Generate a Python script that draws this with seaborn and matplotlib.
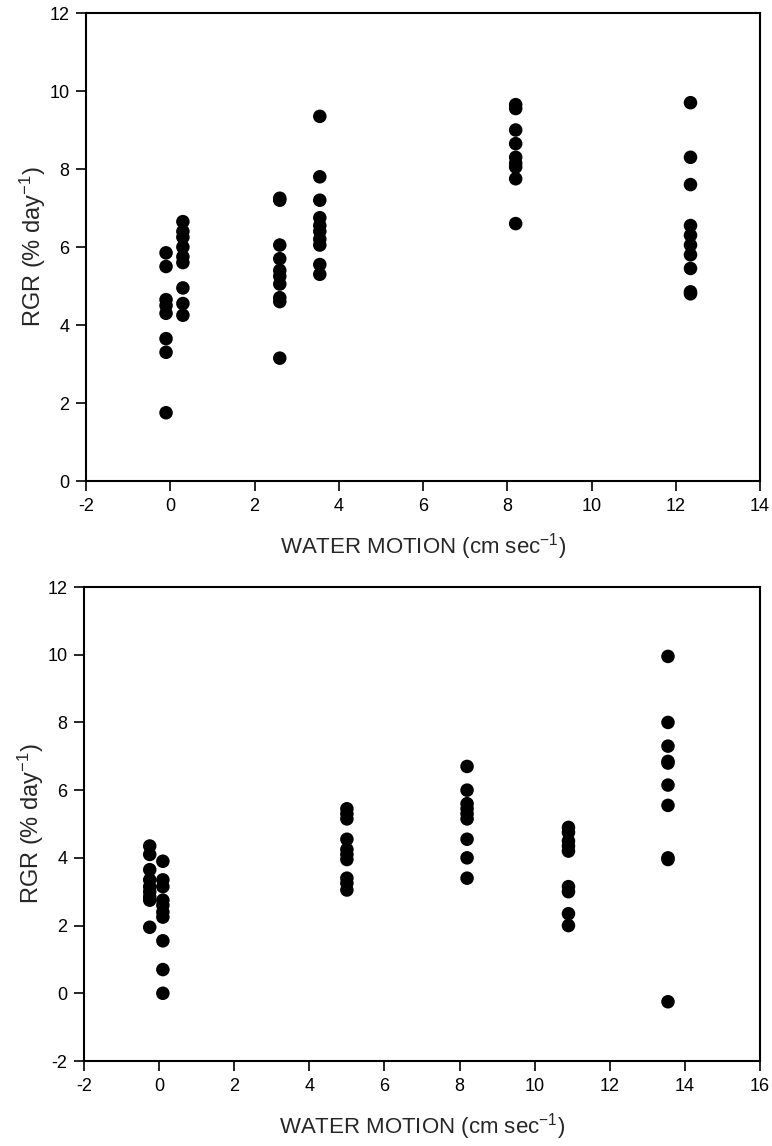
import numpy as np
import pandas as pd
import matplotlib
matplotlib.use("Agg")
import matplotlib.pyplot as plt
import seaborn as sns

# ---- data: top panel (water motion levels and RGR values per level) ----
top_levels = [-0.1, 0.3, 2.6, 3.55, 8.2, 12.35]
top_g1 = [5.85, 5.5, 4.65, 4.5, 4.3, 3.65, 3.3, 1.75]
top_g2 = [6.65, 6.4, 6.25, 6.0, 5.75, 5.6, 4.95, 4.55, 4.25]
top_g3 = [7.25, 7.2, 6.05, 5.7, 5.4, 5.25, 5.05, 4.7, 4.6, 3.15]
top_g4 = [9.35, 7.8, 7.2, 6.75, 6.55, 6.4, 6.2, 6.05, 5.55, 5.3]
top_g5 = [9.65, 9.55, 9.0, 8.65, 8.3, 8.15, 8.05, 7.75, 6.6]
top_g6 = [9.7, 8.3, 7.6, 6.55, 6.3, 6.05, 5.8, 5.45, 4.85, 4.8]

# ---- data: bottom panel ----
bot_levels = [-0.25, 0.1, 5.0, 8.2, 10.9, 13.55]
bot_g1 = [4.35, 4.1, 3.65, 3.35, 3.15, 3.0, 2.85, 2.75, 1.95]
bot_g2 = [3.9, 3.35, 3.15, 2.75, 2.6, 2.4, 2.25, 1.55, 0.7, 0.0]
bot_g3 = [5.45, 5.3, 5.15, 4.55, 4.25, 4.1, 3.95, 3.4, 3.25, 3.05]
bot_g4 = [6.7, 6.0, 5.6, 5.45, 5.3, 5.15, 4.55, 4.0, 3.4]
bot_g5 = [4.9, 4.75, 4.5, 4.35, 4.2, 3.15, 3.0, 2.35, 2.0]
bot_g6 = [9.95, 8.0, 7.3, 6.85, 6.8, 6.15, 5.55, 4.0, 3.95, -0.25]

top_xticks = list(range(-2, 15, 2))
top_yticks = list(range(0, 13, 2))
bot_xticks = list(range(-2, 17, 2))
bot_yticks = list(range(-2, 13, 2))

xlabel = "WATER MOTION (cm sec$^{-1}$)"
ylabel = "RGR (% day$^{-1}$)"


def to_frame(levels, groups):
    xs, ys = [], []
    for lv, g in zip(levels, groups):
        xs += [lv] * len(g)
        ys += list(g)
    return pd.DataFrame({"motion": xs, "rgr": ys})


top_df = to_frame(top_levels, [top_g1, top_g2, top_g3, top_g4, top_g5, top_g6])
bot_df = to_frame(bot_levels, [bot_g1, bot_g2, bot_g3, bot_g4, bot_g5, bot_g6])

sns.set_style("ticks")
plt.rcParams["font.family"] = ["Liberation Sans", "DejaVu Sans"]
plt.rcParams["mathtext.default"] = "regular"

fig = plt.figure(figsize=(7.72, 11.46), dpi=100)
ax1 = fig.add_axes([86 / 772, 1 - 481 / 1146, (760 - 86) / 772, (481 - 13) / 1146])
ax2 = fig.add_axes([84 / 772, 1 - 1061 / 1146, (760 - 84) / 772, (1061 - 587) / 1146])


def style(ax, df, xlim, ylim, xt, yt):
    sns.scatterplot(data=df, x="motion", y="rgr", ax=ax, color="black",
                    s=95, edgecolor="none", linewidth=0, legend=False,
                    zorder=3)
    ax.set_xlim(*xlim)
    ax.set_ylim(*ylim)
    ax.set_xticks(xt)
    ax.set_yticks(yt)
    ax.set_xticklabels([str(v) for v in xt])
    ax.set_yticklabels([str(v) for v in yt])
    ax.tick_params(axis="both", direction="out", length=7, width=1.2,
                   labelsize=13, pad=5, color="black", labelcolor="black")
    for sp in ax.spines.values():
        sp.set_visible(True)
        sp.set_linewidth(1.5)
        sp.set_color("black")
    ax.set_xlabel(xlabel, fontsize=16, labelpad=12)
    ax.set_ylabel(ylabel, fontsize=17, labelpad=1)


style(ax1, top_df, (-2, 14), (0, 12), top_xticks, top_yticks)
style(ax2, bot_df, (-2, 16), (-2, 12), bot_xticks, bot_yticks)

fig.savefig("out.png", dpi=100)
